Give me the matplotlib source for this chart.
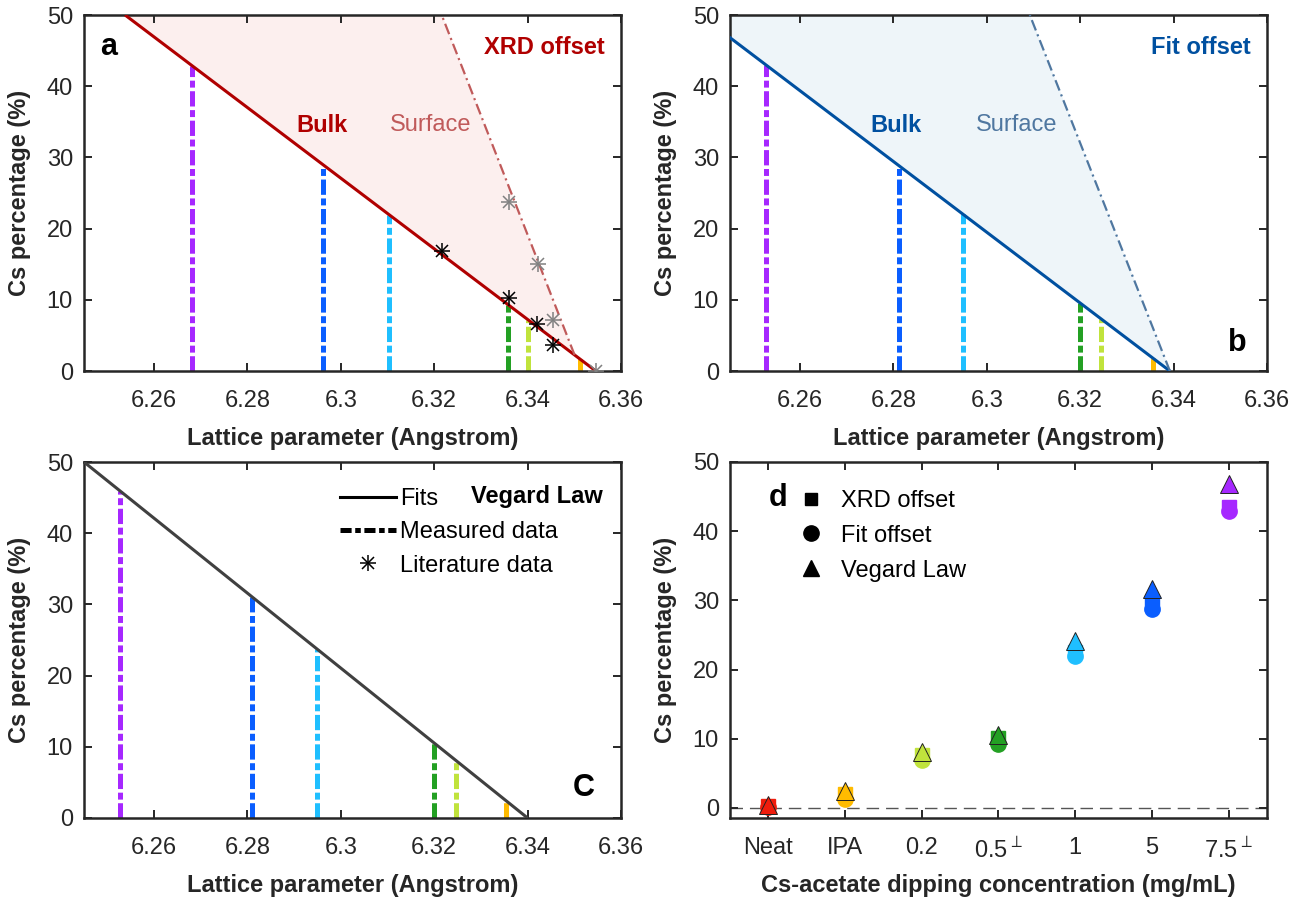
import matplotlib
matplotlib.use('Agg')
import numpy as np
import matplotlib.pyplot as plt
from matplotlib.lines import Line2D
from matplotlib.legend_handler import HandlerTuple

plt.rcParams['font.family'] = ['Liberation Sans', 'DejaVu Sans']
plt.rcParams['mathtext.fontset'] = 'dejavusans'
plt.rcParams['lines.scale_dashes'] = False

# ---------------- data ----------------
samples = ['Neat', 'IPA', '0.2', '0.5', '1', '5', '7.5']
sample_tick_labels = ['Neat', 'IPA', '0.2', '0.5$^{\\perp}$', '1', '5', '7.5$^{\\perp}$']
sample_colors = ['#f01c0c', '#ffbb00', '#c0e33c', '#23a023', '#1fbfff', '#0a5eff', '#a628ff']

# measured lattice parameters (Angstrom) for IPA, 0.2, 0.5, 1, 5, 7.5
lattice_xrd_offset = [6.3512, 6.3401, 6.3358, 6.3103, 6.2962, 6.2681]
lattice_fit_offset = [6.3356, 6.3245, 6.3199, 6.2949, 6.2811, 6.2527]
lattice_vegard = [6.3354, 6.3246, 6.3199, 6.2949, 6.2810, 6.2527]
measured_colors = sample_colors[1:]

# linear calibrations: Cs% = slope * (a_zero - a)
xrd_bulk = (6.3546, 496.0)
xrd_surface = (6.3514, 1678.0)
fit_bulk = (6.3392, 497.0)
fit_surface = (6.3392, 1667.0)
vegard_fa, vegard_cs = 6.34, 6.15

# literature lattice parameters and Cs content
lit_bulk_a = [6.3216, 6.3360, 6.3421, 6.3454]
lit_bulk_cs = [16.85, 10.2, 6.6, 3.65]
lit_surface_a = [6.3360, 6.3423, 6.3454, 6.3546]
lit_surface_cs = [23.8, 15.0, 7.16, 0.0]

# Cs content per dipping concentration
cs_xrd_offset = [0.25, 2.0, 7.7, 10.1, 22.5, 29.5, 43.5]
cs_fit_offset = [0.1, 1.3, 7.0, 9.3, 21.9, 28.8, 42.9]
cs_vegard = [0.4, 2.4, 8.1, 10.6, 24.2, 31.6, 46.8]

lattice_ticks = [6.26, 6.28, 6.30, 6.32, 6.34, 6.36]
lattice_tick_labels = ['6.26', '6.28', '6.3', '6.32', '6.34', '6.36']
cs_ticks = [0, 10, 20, 30, 40, 50]

# ---------------- style ----------------
AX_COL = '#262626'
FS = 17
MEAS_LW = 3.6
MEAS_DASH = (11, 2.6, 5, 2.6)
SURF_DASH = (8, 3, 1.5, 3)

fig = plt.figure(figsize=(13.05, 8.99), dpi=100)
W, H = 1305, 899


def make_axes(left, top, right, bottom):
    return fig.add_axes([left / W, 1 - bottom / H, (right - left) / W, (bottom - top) / H])


ax_a = make_axes(84, 15, 621, 371)
ax_b = make_axes(730, 15, 1267, 371)
ax_c = make_axes(84, 462, 621, 818)
ax_d = make_axes(730, 462, 1267, 818)


def style_axes(ax):
    for s in ax.spines.values():
        s.set_color(AX_COL)
        s.set_linewidth(1.8)
    ax.tick_params(direction='in', length=6, width=1.4, top=True, right=True,
                   colors=AX_COL, labelsize=FS)
    ax.tick_params(axis='x', pad=14)
    ax.tick_params(axis='y', pad=8)
    ax.set_ylabel('Cs percentage (%)', fontsize=FS, fontweight='bold', color=AX_COL)
    ax.yaxis.set_label_coords(-0.098, 0.5)


def lattice_axes(ax):
    style_axes(ax)
    ax.set_xlim(6.245, 6.36)
    ax.set_ylim(0, 50)
    ax.set_xticks(lattice_ticks)
    ax.set_xticklabels(lattice_tick_labels)
    ax.set_yticks(cs_ticks)
    ax.set_xlabel('Lattice parameter (Angstrom)', fontsize=FS, fontweight='bold', color=AX_COL)
    ax.xaxis.set_label_coords(0.5, -0.158)


def cs_of(line, a):
    a0, k = line
    return k * (a0 - np.asarray(a))


def a_of(line, cs):
    a0, k = line
    return a0 - np.asarray(cs) / k


def measured(ax, line, lattice):
    for a, c in zip(lattice, measured_colors):
        h = float(cs_of(line, a))
        ax.plot([a, a], [0, h], color=c, lw=MEAS_LW, dashes=MEAS_DASH,
                solid_capstyle='butt', dash_capstyle='butt', zorder=2)


def asterisk(ax, x, y, color, ms=11.5, **kw):
    ax.plot(x, y, ls='none', marker='+', ms=ms, mew=1.1, color=color, zorder=5, **kw)
    ax.plot(x, y, ls='none', marker='x', ms=ms * 0.72, mew=1.1, color=color, zorder=5, **kw)


def offset_panel(ax, bulk, surface, main_col, surf_col, fill_col, title, bulk_xy, surf_xy):
    lattice_axes(ax)
    # crossing point of the bulk and surface calibrations
    (b0, bk), (s0, sk) = bulk, surface
    a_x = (bk * b0 - sk * s0) / (bk - sk)
    cs_x = max(float(cs_of(bulk, a_x)), 0.0)
    yy = np.linspace(cs_x, 50, 200)
    ax.fill_betweenx(yy, a_of(bulk, yy), a_of(surface, yy), color=fill_col, lw=0, zorder=0)
    yb = np.array([0, 50])
    ax.plot(a_of(bulk, yb), yb, color=main_col, lw=2.2, zorder=3, solid_capstyle='butt')
    ys = np.array([cs_x, 50])
    ax.plot(a_of(surface, ys), ys, color=surf_col, lw=1.6, dashes=SURF_DASH, zorder=3)
    ax.text(0.97, 0.91, title, transform=ax.transAxes, ha='right', va='center',
            fontsize=FS, fontweight='bold', color=main_col)
    ax.text(bulk_xy[0], bulk_xy[1], 'Bulk', transform=ax.transAxes, ha='center', va='center',
            fontsize=FS, fontweight='bold', color=main_col)
    ax.text(surf_xy[0], surf_xy[1], 'Surface', transform=ax.transAxes, ha='center', va='center',
            fontsize=FS, color=surf_col)


# ---------------- panel a ----------------
offset_panel(ax_a, xrd_bulk, xrd_surface, '#b00000', '#c05a5a', '#fcefee',
             'XRD offset', (0.443, 0.691), (0.646, 0.691))
measured(ax_a, xrd_bulk, lattice_xrd_offset)
asterisk(ax_a, lit_bulk_a, lit_bulk_cs, 'black')
asterisk(ax_a, lit_surface_a, lit_surface_cs, '#808080')
ax_a.text(0.03, 0.91, 'a', transform=ax_a.transAxes, ha='left', va='center',
          fontsize=22, fontweight='bold', color='black')

# ---------------- panel b ----------------
offset_panel(ax_b, fit_bulk, fit_surface, '#0050a0', '#4f77a0', '#eef5f9',
             'Fit offset', (0.309, 0.691), (0.533, 0.691))
measured(ax_b, fit_bulk, lattice_fit_offset)
ax_b.text(0.944, 0.079, 'b', transform=ax_b.transAxes, ha='center', va='center',
          fontsize=22, fontweight='bold', color='black')

# ---------------- panel c ----------------
lattice_axes(ax_c)
vegard = (vegard_fa, 100.0 / (vegard_fa - vegard_cs))
measured(ax_c, vegard, lattice_vegard)
yv = np.array([0, 50])
ax_c.plot(a_of(vegard, yv), yv, color='#404040', lw=2.2, zorder=3, solid_capstyle='butt')
ax_c.text(0.966, 0.902, 'Vegard Law', transform=ax_c.transAxes, ha='right', va='center',
          fontsize=FS, fontweight='bold', color='black')
ax_c.text(0.931, 0.084, 'C', transform=ax_c.transAxes, ha='center', va='center',
          fontsize=22, fontweight='bold', color='black')
h_fit = Line2D([], [], color='black', lw=2.2)
h_meas = Line2D([], [], color='black', lw=MEAS_LW, dashes=(8, 2.6, 4, 2.6))
h_lit = (Line2D([], [], ls='none', marker='+', ms=11.5, mew=1.1, color='black'),
         Line2D([], [], ls='none', marker='x', ms=8.3, mew=1.1, color='black'))
ax_c.legend([h_fit, h_meas, h_lit], ['Fits', 'Measured data', 'Literature data'],
            handler_map={tuple: HandlerTuple(ndivide=1)},
            loc='upper left', bbox_to_anchor=(0.477, 0.926), frameon=False,
            fontsize=FS, handlelength=2.35, handletextpad=0.2, labelspacing=0.47,
            borderpad=0, borderaxespad=0)

# ---------------- panel d ----------------
style_axes(ax_d)
xpos = np.arange(1, len(samples) + 1)
ax_d.set_xlim(0.5, len(samples) + 0.5)
ax_d.set_ylim(-1.45, 50)
ax_d.set_xticks(xpos)
ax_d.set_xticklabels(sample_tick_labels)
ax_d.set_yticks(cs_ticks)
ax_d.set_xlabel('Cs-acetate dipping concentration (mg/mL)', fontsize=FS,
                fontweight='bold', color=AX_COL)
ax_d.xaxis.set_label_coords(0.5, -0.158)
ax_d.axhline(0, color='#555555', lw=1.0, dashes=(9, 5), zorder=1)
for x, c, vx, vf, vv in zip(xpos, sample_colors, cs_xrd_offset, cs_fit_offset, cs_vegard):
    ax_d.plot(x, vx, marker='s', ms=10.5, color=c, mec=c, ls='none', zorder=3)
    ax_d.plot(x, vf, marker='o', ms=11, color=c, mec=c, ls='none', zorder=4)
    ax_d.plot(x, vv, marker='^', ms=13.5, color=c, mec='#222222', mew=0.7, ls='none', zorder=5)
ax_d.text(0.089, 0.899, 'd', transform=ax_d.transAxes, ha='center', va='center',
          fontsize=22, fontweight='bold', color='black')
hd = [Line2D([], [], ls='none', marker='s', ms=9, color='black'),
      Line2D([], [], ls='none', marker='o', ms=11, color='black'),
      Line2D([], [], ls='none', marker='^', ms=12, color='black')]
ax_d.legend(hd, ['XRD offset', 'Fit offset', 'Vegard Law'], loc='upper left',
            bbox_to_anchor=(0.128, 0.922), frameon=False, fontsize=FS,
            handlelength=1.0, handletextpad=0.8, labelspacing=0.55,
            borderpad=0, borderaxespad=0)

fig.savefig('out.png', dpi=100)
